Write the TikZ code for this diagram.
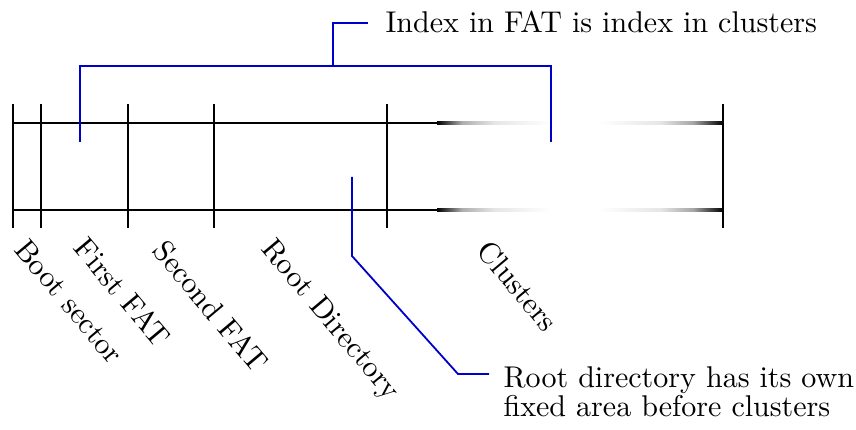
\documentclass[tikz,border=0pt]{standalone}
\pgfdeclarehorizontalshading{fadeout}{100bp}{color(0bp)=(black); color(25bp)=(black); color(36bp)=(black!32); color(50bp)=(black!10); color(75bp)=(white); color(100bp)=(white)}
\pgfdeclarehorizontalshading{fadein}{100bp}{color(0bp)=(white); color(25bp)=(white); color(50bp)=(black!10); color(63bp)=(black!35); color(75bp)=(black); color(100bp)=(black)}
\begin{document}
\begin{tikzpicture}[x=0.333pt,y=-0.333pt,
  bar/.style={line width=0.7pt},
  note/.style={draw=blue!80!black, line width=0.6pt},
  lbl/.style={rotate=-50, anchor=north west, inner sep=0pt},
  txt/.style={inner sep=0pt, align=left}]
\useasboundingbox (0,0) rectangle (856,430);
% ticks
\foreach \x in {13,41,128,214,387,723}{
  \draw[bar] (\x,104) -- (\x,228);
}
% horizontal lines with fading
\foreach \y in {123,210}{
  \draw[bar] (13,\y) -- (437,\y);
  \shade[shading=fadeout] (437,\y-1.05) rectangle (551,\y+1.05);
  \shade[shading=fadein] (598,\y-1.05) rectangle (723,\y+1.05);
}
% labels
\node[lbl] (boot) at (29,236) {Boot sector};
\node[lbl] (fat1) at (89,234) {First FAT};
\node[lbl] (fat2) at (168,237) {Second FAT};
\node[lbl] (rootdir) at (276,235) {Root Directory};
\node[lbl] (clusters) at (492,237) {Clusters};
% annotation 1
\coordinate (p1) at (80,142);
\coordinate (p2) at (551,142);
\coordinate (m) at (333,66);
\coordinate (s1) at (368,23);
\draw[note] (p1) |- (m) -| (p2);
\draw[note] (m) |- (s1);
\node[txt, anchor=base west] (idx) at (385,33) {Index in FAT is index in clusters};
% annotation 2
\coordinate (q1) at (352,177);
\coordinate (q2) at (352,256);
\coordinate (q3) at (458,374);
\coordinate (q4) at (489,374);
\draw[note] (q1) -- (q2) -- (q3) -- (q4);
\node[txt, anchor=north west, font=\fontsize{10}{9.6}\selectfont] (rootnote) at (503,366.2) {Root directory has its own\\fixed area before clusters};
\end{tikzpicture}
\end{document}
